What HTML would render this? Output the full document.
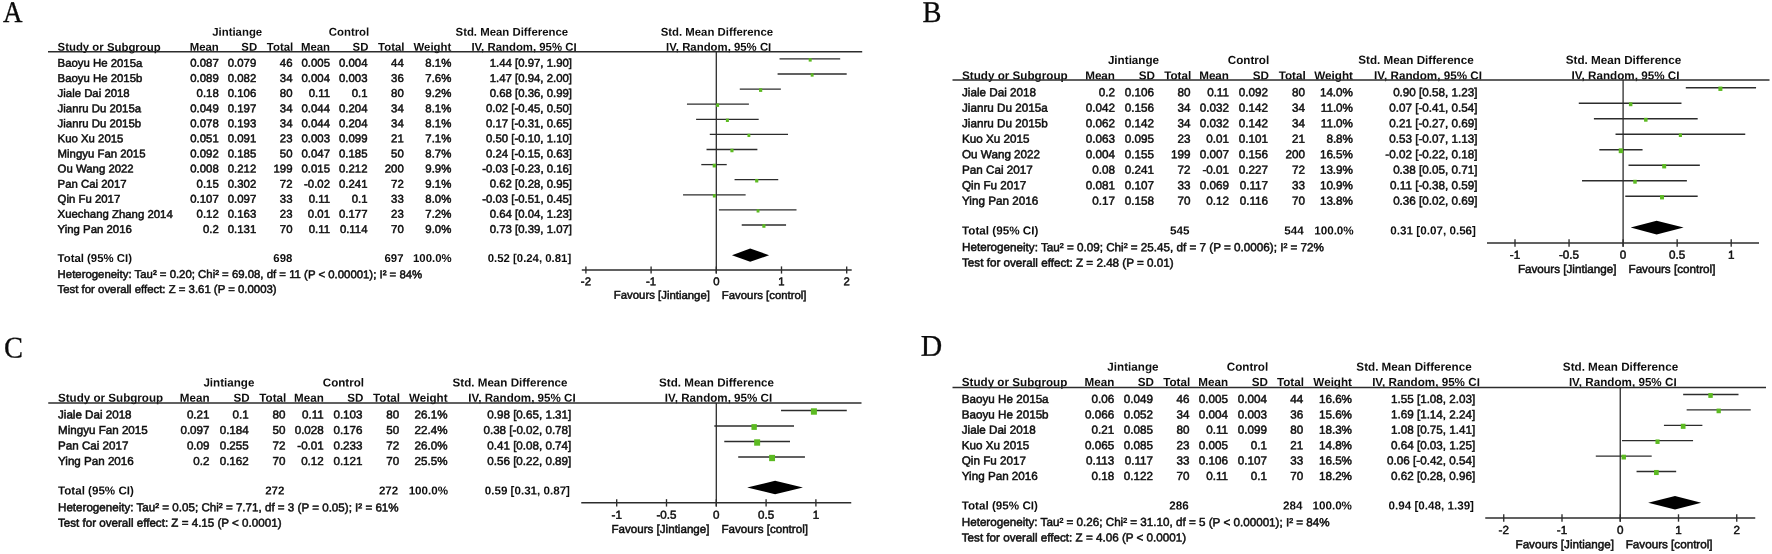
<!DOCTYPE html>
<html lang="en">
<head>
<meta charset="utf-8">
<title>Forest plots</title>
<style>
html,body{margin:0;padding:0;background:#fff;}
body{width:1772px;height:554px;overflow:hidden;}
svg{display:block;filter:blur(0.35px);}
svg text{font-family:"Liberation Sans",Arial,Helvetica,sans-serif;fill:#0e0e0e;}
svg text.r{stroke:#0e0e0e;stroke-width:0.5px;}
svg text.pl{font-family:"Liberation Serif","Times New Roman",Times,serif;fill:#0a0a0a;stroke:#0a0a0a;stroke-width:0.3px;}
</style>
</head>
<body>
<svg width="1772" height="554" viewBox="0 0 1772 554">
<rect x="0" y="0" width="1772" height="554" fill="#ffffff"/>
<g font-size="11.38">
<text class="pl" transform="translate(3.1 22) rotate(0.03) scale(0.900 1)" font-size="30">A</text>
<text transform="translate(237.2 35.8) rotate(0.03)" text-anchor="middle" font-weight="bold">Jintiange</text>
<text transform="translate(349 35.8) rotate(0.03)" text-anchor="middle" font-weight="bold">Control</text>
<text transform="translate(511.8 35.8) rotate(0.03)" text-anchor="middle" font-weight="bold">Std. Mean Difference</text>
<text transform="translate(716.9 35.8) rotate(0.03)" text-anchor="middle" font-weight="bold">Std. Mean Difference</text>
<text transform="translate(524 50.85) rotate(0.03)" text-anchor="middle" font-weight="bold">IV, Random, 95% CI</text>
<text transform="translate(718.7 50.85) rotate(0.03)" text-anchor="middle" font-weight="bold">IV, Random, 95% CI</text>
<text transform="translate(57.6 50.85) rotate(0.03)" font-weight="bold">Study or Subgroup</text>
<text transform="translate(218.75 50.85) rotate(0.03)" text-anchor="end" font-weight="bold">Mean</text>
<text transform="translate(257.15 50.85) rotate(0.03)" text-anchor="end" font-weight="bold">SD</text>
<text transform="translate(293.2 50.85) rotate(0.03)" text-anchor="end" font-weight="bold">Total</text>
<text transform="translate(330 50.85) rotate(0.03)" text-anchor="end" font-weight="bold">Mean</text>
<text transform="translate(368.4 50.85) rotate(0.03)" text-anchor="end" font-weight="bold">SD</text>
<text transform="translate(404.45 50.85) rotate(0.03)" text-anchor="end" font-weight="bold">Total</text>
<text transform="translate(451.25 50.85) rotate(0.03)" text-anchor="end" font-weight="bold">Weight</text>
<line x1="48" y1="51.7" x2="862.2" y2="51.7" stroke="#2c2c2c" stroke-width="1.5"/>
<text transform="translate(57.6 66.85) rotate(0.03)" class="r">Baoyu He 2015a</text>
<text transform="translate(218.75 66.85) rotate(0.03)" text-anchor="end" class="r">0.087</text>
<text transform="translate(256.25 66.85) rotate(0.03)" text-anchor="end" class="r">0.079</text>
<text transform="translate(292.5 66.85) rotate(0.03)" text-anchor="end" class="r">46</text>
<text transform="translate(330 66.85) rotate(0.03)" text-anchor="end" class="r">0.005</text>
<text transform="translate(367.5 66.85) rotate(0.03)" text-anchor="end" class="r">0.004</text>
<text transform="translate(403.75 66.85) rotate(0.03)" text-anchor="end" class="r">44</text>
<text transform="translate(451.25 66.85) rotate(0.03)" text-anchor="end" class="r">8.1%</text>
<text transform="translate(572 66.85) rotate(0.03)" text-anchor="end" class="r">1.44 [0.97, 1.90]</text>
<text transform="translate(57.6 81.95) rotate(0.03)" class="r">Baoyu He 2015b</text>
<text transform="translate(218.75 81.95) rotate(0.03)" text-anchor="end" class="r">0.089</text>
<text transform="translate(256.25 81.95) rotate(0.03)" text-anchor="end" class="r">0.082</text>
<text transform="translate(292.5 81.95) rotate(0.03)" text-anchor="end" class="r">34</text>
<text transform="translate(330 81.95) rotate(0.03)" text-anchor="end" class="r">0.004</text>
<text transform="translate(367.5 81.95) rotate(0.03)" text-anchor="end" class="r">0.003</text>
<text transform="translate(403.75 81.95) rotate(0.03)" text-anchor="end" class="r">36</text>
<text transform="translate(451.25 81.95) rotate(0.03)" text-anchor="end" class="r">7.6%</text>
<text transform="translate(572 81.95) rotate(0.03)" text-anchor="end" class="r">1.47 [0.94, 2.00]</text>
<text transform="translate(57.6 97.05) rotate(0.03)" class="r">Jiale Dai 2018</text>
<text transform="translate(218.75 97.05) rotate(0.03)" text-anchor="end" class="r">0.18</text>
<text transform="translate(256.25 97.05) rotate(0.03)" text-anchor="end" class="r">0.106</text>
<text transform="translate(292.5 97.05) rotate(0.03)" text-anchor="end" class="r">80</text>
<text transform="translate(330 97.05) rotate(0.03)" text-anchor="end" class="r">0.11</text>
<text transform="translate(367.5 97.05) rotate(0.03)" text-anchor="end" class="r">0.1</text>
<text transform="translate(403.75 97.05) rotate(0.03)" text-anchor="end" class="r">80</text>
<text transform="translate(451.25 97.05) rotate(0.03)" text-anchor="end" class="r">9.2%</text>
<text transform="translate(572 97.05) rotate(0.03)" text-anchor="end" class="r">0.68 [0.36, 0.99]</text>
<text transform="translate(57.6 112.15) rotate(0.03)" class="r">Jianru Du 2015a</text>
<text transform="translate(218.75 112.15) rotate(0.03)" text-anchor="end" class="r">0.049</text>
<text transform="translate(256.25 112.15) rotate(0.03)" text-anchor="end" class="r">0.197</text>
<text transform="translate(292.5 112.15) rotate(0.03)" text-anchor="end" class="r">34</text>
<text transform="translate(330 112.15) rotate(0.03)" text-anchor="end" class="r">0.044</text>
<text transform="translate(367.5 112.15) rotate(0.03)" text-anchor="end" class="r">0.204</text>
<text transform="translate(403.75 112.15) rotate(0.03)" text-anchor="end" class="r">34</text>
<text transform="translate(451.25 112.15) rotate(0.03)" text-anchor="end" class="r">8.1%</text>
<text transform="translate(572 112.15) rotate(0.03)" text-anchor="end" class="r">0.02 [-0.45, 0.50]</text>
<text transform="translate(57.6 127.25) rotate(0.03)" class="r">Jianru Du 2015b</text>
<text transform="translate(218.75 127.25) rotate(0.03)" text-anchor="end" class="r">0.078</text>
<text transform="translate(256.25 127.25) rotate(0.03)" text-anchor="end" class="r">0.193</text>
<text transform="translate(292.5 127.25) rotate(0.03)" text-anchor="end" class="r">34</text>
<text transform="translate(330 127.25) rotate(0.03)" text-anchor="end" class="r">0.044</text>
<text transform="translate(367.5 127.25) rotate(0.03)" text-anchor="end" class="r">0.204</text>
<text transform="translate(403.75 127.25) rotate(0.03)" text-anchor="end" class="r">34</text>
<text transform="translate(451.25 127.25) rotate(0.03)" text-anchor="end" class="r">8.1%</text>
<text transform="translate(572 127.25) rotate(0.03)" text-anchor="end" class="r">0.17 [-0.31, 0.65]</text>
<text transform="translate(57.6 142.35) rotate(0.03)" class="r">Kuo Xu 2015</text>
<text transform="translate(218.75 142.35) rotate(0.03)" text-anchor="end" class="r">0.051</text>
<text transform="translate(256.25 142.35) rotate(0.03)" text-anchor="end" class="r">0.091</text>
<text transform="translate(292.5 142.35) rotate(0.03)" text-anchor="end" class="r">23</text>
<text transform="translate(330 142.35) rotate(0.03)" text-anchor="end" class="r">0.003</text>
<text transform="translate(367.5 142.35) rotate(0.03)" text-anchor="end" class="r">0.099</text>
<text transform="translate(403.75 142.35) rotate(0.03)" text-anchor="end" class="r">21</text>
<text transform="translate(451.25 142.35) rotate(0.03)" text-anchor="end" class="r">7.1%</text>
<text transform="translate(572 142.35) rotate(0.03)" text-anchor="end" class="r">0.50 [-0.10, 1.10]</text>
<text transform="translate(57.6 157.45) rotate(0.03)" class="r">Mingyu Fan 2015</text>
<text transform="translate(218.75 157.45) rotate(0.03)" text-anchor="end" class="r">0.092</text>
<text transform="translate(256.25 157.45) rotate(0.03)" text-anchor="end" class="r">0.185</text>
<text transform="translate(292.5 157.45) rotate(0.03)" text-anchor="end" class="r">50</text>
<text transform="translate(330 157.45) rotate(0.03)" text-anchor="end" class="r">0.047</text>
<text transform="translate(367.5 157.45) rotate(0.03)" text-anchor="end" class="r">0.185</text>
<text transform="translate(403.75 157.45) rotate(0.03)" text-anchor="end" class="r">50</text>
<text transform="translate(451.25 157.45) rotate(0.03)" text-anchor="end" class="r">8.7%</text>
<text transform="translate(572 157.45) rotate(0.03)" text-anchor="end" class="r">0.24 [-0.15, 0.63]</text>
<text transform="translate(57.6 172.55) rotate(0.03)" class="r">Ou Wang 2022</text>
<text transform="translate(218.75 172.55) rotate(0.03)" text-anchor="end" class="r">0.008</text>
<text transform="translate(256.25 172.55) rotate(0.03)" text-anchor="end" class="r">0.212</text>
<text transform="translate(292.5 172.55) rotate(0.03)" text-anchor="end" class="r">199</text>
<text transform="translate(330 172.55) rotate(0.03)" text-anchor="end" class="r">0.015</text>
<text transform="translate(367.5 172.55) rotate(0.03)" text-anchor="end" class="r">0.212</text>
<text transform="translate(403.75 172.55) rotate(0.03)" text-anchor="end" class="r">200</text>
<text transform="translate(451.25 172.55) rotate(0.03)" text-anchor="end" class="r">9.9%</text>
<text transform="translate(572 172.55) rotate(0.03)" text-anchor="end" class="r">-0.03 [-0.23, 0.16]</text>
<text transform="translate(57.6 187.65) rotate(0.03)" class="r">Pan Cai 2017</text>
<text transform="translate(218.75 187.65) rotate(0.03)" text-anchor="end" class="r">0.15</text>
<text transform="translate(256.25 187.65) rotate(0.03)" text-anchor="end" class="r">0.302</text>
<text transform="translate(292.5 187.65) rotate(0.03)" text-anchor="end" class="r">72</text>
<text transform="translate(330 187.65) rotate(0.03)" text-anchor="end" class="r">-0.02</text>
<text transform="translate(367.5 187.65) rotate(0.03)" text-anchor="end" class="r">0.241</text>
<text transform="translate(403.75 187.65) rotate(0.03)" text-anchor="end" class="r">72</text>
<text transform="translate(451.25 187.65) rotate(0.03)" text-anchor="end" class="r">9.1%</text>
<text transform="translate(572 187.65) rotate(0.03)" text-anchor="end" class="r">0.62 [0.28, 0.95]</text>
<text transform="translate(57.6 202.75) rotate(0.03)" class="r">Qin Fu 2017</text>
<text transform="translate(218.75 202.75) rotate(0.03)" text-anchor="end" class="r">0.107</text>
<text transform="translate(256.25 202.75) rotate(0.03)" text-anchor="end" class="r">0.097</text>
<text transform="translate(292.5 202.75) rotate(0.03)" text-anchor="end" class="r">33</text>
<text transform="translate(330 202.75) rotate(0.03)" text-anchor="end" class="r">0.11</text>
<text transform="translate(367.5 202.75) rotate(0.03)" text-anchor="end" class="r">0.1</text>
<text transform="translate(403.75 202.75) rotate(0.03)" text-anchor="end" class="r">33</text>
<text transform="translate(451.25 202.75) rotate(0.03)" text-anchor="end" class="r">8.0%</text>
<text transform="translate(572 202.75) rotate(0.03)" text-anchor="end" class="r">-0.03 [-0.51, 0.45]</text>
<text transform="translate(57.6 217.85) rotate(0.03)" class="r">Xuechang Zhang 2014</text>
<text transform="translate(218.75 217.85) rotate(0.03)" text-anchor="end" class="r">0.12</text>
<text transform="translate(256.25 217.85) rotate(0.03)" text-anchor="end" class="r">0.163</text>
<text transform="translate(292.5 217.85) rotate(0.03)" text-anchor="end" class="r">23</text>
<text transform="translate(330 217.85) rotate(0.03)" text-anchor="end" class="r">0.01</text>
<text transform="translate(367.5 217.85) rotate(0.03)" text-anchor="end" class="r">0.177</text>
<text transform="translate(403.75 217.85) rotate(0.03)" text-anchor="end" class="r">23</text>
<text transform="translate(451.25 217.85) rotate(0.03)" text-anchor="end" class="r">7.2%</text>
<text transform="translate(572 217.85) rotate(0.03)" text-anchor="end" class="r">0.64 [0.04, 1.23]</text>
<text transform="translate(57.6 232.95) rotate(0.03)" class="r">Ying Pan 2016</text>
<text transform="translate(218.75 232.95) rotate(0.03)" text-anchor="end" class="r">0.2</text>
<text transform="translate(256.25 232.95) rotate(0.03)" text-anchor="end" class="r">0.131</text>
<text transform="translate(292.5 232.95) rotate(0.03)" text-anchor="end" class="r">70</text>
<text transform="translate(330 232.95) rotate(0.03)" text-anchor="end" class="r">0.11</text>
<text transform="translate(367.5 232.95) rotate(0.03)" text-anchor="end" class="r">0.114</text>
<text transform="translate(403.75 232.95) rotate(0.03)" text-anchor="end" class="r">70</text>
<text transform="translate(451.25 232.95) rotate(0.03)" text-anchor="end" class="r">9.0%</text>
<text transform="translate(572 232.95) rotate(0.03)" text-anchor="end" class="r">0.73 [0.39, 1.07]</text>
<text transform="translate(57.6 262) rotate(0.03)" font-weight="bold">Total (95% CI)</text>
<text transform="translate(292.3 262) rotate(0.03)" text-anchor="end" font-weight="bold">698</text>
<text transform="translate(403.5 262) rotate(0.03)" text-anchor="end" font-weight="bold">697</text>
<text transform="translate(451.6 262) rotate(0.03)" text-anchor="end" font-weight="bold">100.0%</text>
<text transform="translate(571.2 262) rotate(0.03)" text-anchor="end" font-weight="bold">0.52 [0.24, 0.81]</text>
<text transform="translate(57.6 278) rotate(0.03)" class="r">Heterogeneity: Tau² = 0.20; Chi² = 69.08, df = 11 (P &lt; 0.00001); I² = 84%</text>
<text transform="translate(57.6 293) rotate(0.03)" class="r">Test for overall effect: Z = 3.61 (P = 0.0003)</text>
<line x1="716.3" y1="51.7" x2="716.3" y2="273.6" stroke="#2c2c2c" stroke-width="1.3"/>
<line x1="581.8" y1="270" x2="851.7" y2="270" stroke="#2c2c2c" stroke-width="1.5"/>
<line x1="585.9" y1="266.4" x2="585.9" y2="273.6" stroke="#2c2c2c" stroke-width="1.35"/>
<text transform="translate(585.9 285.3) rotate(0.03)" text-anchor="middle" class="r">-2</text>
<line x1="651.1" y1="266.4" x2="651.1" y2="273.6" stroke="#2c2c2c" stroke-width="1.35"/>
<text transform="translate(651.1 285.3) rotate(0.03)" text-anchor="middle" class="r">-1</text>
<line x1="716.3" y1="266.4" x2="716.3" y2="273.6" stroke="#2c2c2c" stroke-width="1.35"/>
<text transform="translate(716.3 285.3) rotate(0.03)" text-anchor="middle" class="r">0</text>
<line x1="781.5" y1="266.4" x2="781.5" y2="273.6" stroke="#2c2c2c" stroke-width="1.35"/>
<text transform="translate(781.5 285.3) rotate(0.03)" text-anchor="middle" class="r">1</text>
<line x1="846.7" y1="266.4" x2="846.7" y2="273.6" stroke="#2c2c2c" stroke-width="1.35"/>
<text transform="translate(846.7 285.3) rotate(0.03)" text-anchor="middle" class="r">2</text>
<text transform="translate(709.9 298.9) rotate(0.03)" text-anchor="end" class="r">Favours [Jintiange]</text>
<text transform="translate(721.8 298.9) rotate(0.03)" class="r">Favours [control]</text>
<line x1="779.54" y1="58.9" x2="840.18" y2="58.9" stroke="#2c2c2c" stroke-width="1.3"/>
<rect x="808.69" y="58.2" width="3" height="3.4" fill="#5cba22"/>
<line x1="777.59" y1="74" x2="846.7" y2="74" stroke="#2c2c2c" stroke-width="1.3"/>
<rect x="810.68" y="73.34" width="2.92" height="3.32" fill="#5cba22"/>
<line x1="739.77" y1="89.1" x2="780.85" y2="89.1" stroke="#2c2c2c" stroke-width="1.3"/>
<rect x="759.04" y="88.31" width="3.19" height="3.59" fill="#5cba22"/>
<line x1="686.96" y1="104.2" x2="748.9" y2="104.2" stroke="#2c2c2c" stroke-width="1.3"/>
<rect x="716.1" y="103.5" width="3" height="3.4" fill="#5cba22"/>
<line x1="696.09" y1="119.3" x2="758.68" y2="119.3" stroke="#2c2c2c" stroke-width="1.3"/>
<rect x="725.88" y="118.6" width="3" height="3.4" fill="#5cba22"/>
<line x1="709.78" y1="134.4" x2="788.02" y2="134.4" stroke="#2c2c2c" stroke-width="1.3"/>
<rect x="747.48" y="133.78" width="2.84" height="3.24" fill="#5cba22"/>
<line x1="706.52" y1="149.5" x2="757.38" y2="149.5" stroke="#2c2c2c" stroke-width="1.3"/>
<rect x="730.4" y="148.75" width="3.1" height="3.5" fill="#5cba22"/>
<line x1="701.3" y1="164.6" x2="726.73" y2="164.6" stroke="#2c2c2c" stroke-width="1.3"/>
<rect x="712.69" y="163.75" width="3.3" height="3.7" fill="#5cba22"/>
<line x1="734.56" y1="179.7" x2="778.24" y2="179.7" stroke="#2c2c2c" stroke-width="1.3"/>
<rect x="755.14" y="178.92" width="3.17" height="3.57" fill="#5cba22"/>
<line x1="683.05" y1="194.8" x2="745.64" y2="194.8" stroke="#2c2c2c" stroke-width="1.3"/>
<rect x="712.85" y="194.11" width="2.99" height="3.39" fill="#5cba22"/>
<line x1="718.91" y1="209.9" x2="796.5" y2="209.9" stroke="#2c2c2c" stroke-width="1.3"/>
<rect x="756.6" y="209.27" width="2.85" height="3.25" fill="#5cba22"/>
<line x1="741.73" y1="225" x2="786.06" y2="225" stroke="#2c2c2c" stroke-width="1.3"/>
<rect x="762.32" y="224.22" width="3.15" height="3.55" fill="#5cba22"/>
<polygon points="731.95,255.2 750.2,248.55 769.11,255.2 750.2,261.85" fill="#000"/>
</g>
<g font-size="11.68">
<text class="pl" transform="translate(922.5 22) rotate(0.03) scale(0.950 1)" font-size="30">B</text>
<text transform="translate(1133.5 63.9) rotate(0.03)" text-anchor="middle" font-weight="bold">Jintiange</text>
<text transform="translate(1248.5 63.9) rotate(0.03)" text-anchor="middle" font-weight="bold">Control</text>
<text transform="translate(1416 63.9) rotate(0.03)" text-anchor="middle" font-weight="bold">Std. Mean Difference</text>
<text transform="translate(1623.5 63.9) rotate(0.03)" text-anchor="middle" font-weight="bold">Std. Mean Difference</text>
<text transform="translate(1428 79.4) rotate(0.03)" text-anchor="middle" font-weight="bold">IV, Random, 95% CI</text>
<text transform="translate(1625.5 79.4) rotate(0.03)" text-anchor="middle" font-weight="bold">IV, Random, 95% CI</text>
<text transform="translate(962 79.4) rotate(0.03)" font-weight="bold">Study or Subgroup</text>
<text transform="translate(1115 79.4) rotate(0.03)" text-anchor="end" font-weight="bold">Mean</text>
<text transform="translate(1154.9 79.4) rotate(0.03)" text-anchor="end" font-weight="bold">SD</text>
<text transform="translate(1191.2 79.4) rotate(0.03)" text-anchor="end" font-weight="bold">Total</text>
<text transform="translate(1229 79.4) rotate(0.03)" text-anchor="end" font-weight="bold">Mean</text>
<text transform="translate(1268.9 79.4) rotate(0.03)" text-anchor="end" font-weight="bold">SD</text>
<text transform="translate(1305.7 79.4) rotate(0.03)" text-anchor="end" font-weight="bold">Total</text>
<text transform="translate(1353 79.4) rotate(0.03)" text-anchor="end" font-weight="bold">Weight</text>
<line x1="952.5" y1="80" x2="1769.5" y2="80" stroke="#2c2c2c" stroke-width="1.5"/>
<text transform="translate(962 96.25) rotate(0.03)" class="r">Jiale Dai 2018</text>
<text transform="translate(1115 96.25) rotate(0.03)" text-anchor="end" class="r">0.2</text>
<text transform="translate(1154 96.25) rotate(0.03)" text-anchor="end" class="r">0.106</text>
<text transform="translate(1190.5 96.25) rotate(0.03)" text-anchor="end" class="r">80</text>
<text transform="translate(1229 96.25) rotate(0.03)" text-anchor="end" class="r">0.11</text>
<text transform="translate(1268 96.25) rotate(0.03)" text-anchor="end" class="r">0.092</text>
<text transform="translate(1305 96.25) rotate(0.03)" text-anchor="end" class="r">80</text>
<text transform="translate(1353 96.25) rotate(0.03)" text-anchor="end" class="r">14.0%</text>
<text transform="translate(1477.5 96.25) rotate(0.03)" text-anchor="end" class="r">0.90 [0.58, 1.23]</text>
<text transform="translate(962 111.75) rotate(0.03)" class="r">Jianru Du 2015a</text>
<text transform="translate(1115 111.75) rotate(0.03)" text-anchor="end" class="r">0.042</text>
<text transform="translate(1154 111.75) rotate(0.03)" text-anchor="end" class="r">0.156</text>
<text transform="translate(1190.5 111.75) rotate(0.03)" text-anchor="end" class="r">34</text>
<text transform="translate(1229 111.75) rotate(0.03)" text-anchor="end" class="r">0.032</text>
<text transform="translate(1268 111.75) rotate(0.03)" text-anchor="end" class="r">0.142</text>
<text transform="translate(1305 111.75) rotate(0.03)" text-anchor="end" class="r">34</text>
<text transform="translate(1353 111.75) rotate(0.03)" text-anchor="end" class="r">11.0%</text>
<text transform="translate(1477.5 111.75) rotate(0.03)" text-anchor="end" class="r">0.07 [-0.41, 0.54]</text>
<text transform="translate(962 127.25) rotate(0.03)" class="r">Jianru Du 2015b</text>
<text transform="translate(1115 127.25) rotate(0.03)" text-anchor="end" class="r">0.062</text>
<text transform="translate(1154 127.25) rotate(0.03)" text-anchor="end" class="r">0.142</text>
<text transform="translate(1190.5 127.25) rotate(0.03)" text-anchor="end" class="r">34</text>
<text transform="translate(1229 127.25) rotate(0.03)" text-anchor="end" class="r">0.032</text>
<text transform="translate(1268 127.25) rotate(0.03)" text-anchor="end" class="r">0.142</text>
<text transform="translate(1305 127.25) rotate(0.03)" text-anchor="end" class="r">34</text>
<text transform="translate(1353 127.25) rotate(0.03)" text-anchor="end" class="r">11.0%</text>
<text transform="translate(1477.5 127.25) rotate(0.03)" text-anchor="end" class="r">0.21 [-0.27, 0.69]</text>
<text transform="translate(962 142.75) rotate(0.03)" class="r">Kuo Xu 2015</text>
<text transform="translate(1115 142.75) rotate(0.03)" text-anchor="end" class="r">0.063</text>
<text transform="translate(1154 142.75) rotate(0.03)" text-anchor="end" class="r">0.095</text>
<text transform="translate(1190.5 142.75) rotate(0.03)" text-anchor="end" class="r">23</text>
<text transform="translate(1229 142.75) rotate(0.03)" text-anchor="end" class="r">0.01</text>
<text transform="translate(1268 142.75) rotate(0.03)" text-anchor="end" class="r">0.101</text>
<text transform="translate(1305 142.75) rotate(0.03)" text-anchor="end" class="r">21</text>
<text transform="translate(1353 142.75) rotate(0.03)" text-anchor="end" class="r">8.8%</text>
<text transform="translate(1477.5 142.75) rotate(0.03)" text-anchor="end" class="r">0.53 [-0.07, 1.13]</text>
<text transform="translate(962 158.25) rotate(0.03)" class="r">Ou Wang 2022</text>
<text transform="translate(1115 158.25) rotate(0.03)" text-anchor="end" class="r">0.004</text>
<text transform="translate(1154 158.25) rotate(0.03)" text-anchor="end" class="r">0.155</text>
<text transform="translate(1190.5 158.25) rotate(0.03)" text-anchor="end" class="r">199</text>
<text transform="translate(1229 158.25) rotate(0.03)" text-anchor="end" class="r">0.007</text>
<text transform="translate(1268 158.25) rotate(0.03)" text-anchor="end" class="r">0.156</text>
<text transform="translate(1305 158.25) rotate(0.03)" text-anchor="end" class="r">200</text>
<text transform="translate(1353 158.25) rotate(0.03)" text-anchor="end" class="r">16.5%</text>
<text transform="translate(1477.5 158.25) rotate(0.03)" text-anchor="end" class="r">-0.02 [-0.22, 0.18]</text>
<text transform="translate(962 173.75) rotate(0.03)" class="r">Pan Cai 2017</text>
<text transform="translate(1115 173.75) rotate(0.03)" text-anchor="end" class="r">0.08</text>
<text transform="translate(1154 173.75) rotate(0.03)" text-anchor="end" class="r">0.241</text>
<text transform="translate(1190.5 173.75) rotate(0.03)" text-anchor="end" class="r">72</text>
<text transform="translate(1229 173.75) rotate(0.03)" text-anchor="end" class="r">-0.01</text>
<text transform="translate(1268 173.75) rotate(0.03)" text-anchor="end" class="r">0.227</text>
<text transform="translate(1305 173.75) rotate(0.03)" text-anchor="end" class="r">72</text>
<text transform="translate(1353 173.75) rotate(0.03)" text-anchor="end" class="r">13.9%</text>
<text transform="translate(1477.5 173.75) rotate(0.03)" text-anchor="end" class="r">0.38 [0.05, 0.71]</text>
<text transform="translate(962 189.25) rotate(0.03)" class="r">Qin Fu 2017</text>
<text transform="translate(1115 189.25) rotate(0.03)" text-anchor="end" class="r">0.081</text>
<text transform="translate(1154 189.25) rotate(0.03)" text-anchor="end" class="r">0.107</text>
<text transform="translate(1190.5 189.25) rotate(0.03)" text-anchor="end" class="r">33</text>
<text transform="translate(1229 189.25) rotate(0.03)" text-anchor="end" class="r">0.069</text>
<text transform="translate(1268 189.25) rotate(0.03)" text-anchor="end" class="r">0.117</text>
<text transform="translate(1305 189.25) rotate(0.03)" text-anchor="end" class="r">33</text>
<text transform="translate(1353 189.25) rotate(0.03)" text-anchor="end" class="r">10.9%</text>
<text transform="translate(1477.5 189.25) rotate(0.03)" text-anchor="end" class="r">0.11 [-0.38, 0.59]</text>
<text transform="translate(962 204.75) rotate(0.03)" class="r">Ying Pan 2016</text>
<text transform="translate(1115 204.75) rotate(0.03)" text-anchor="end" class="r">0.17</text>
<text transform="translate(1154 204.75) rotate(0.03)" text-anchor="end" class="r">0.158</text>
<text transform="translate(1190.5 204.75) rotate(0.03)" text-anchor="end" class="r">70</text>
<text transform="translate(1229 204.75) rotate(0.03)" text-anchor="end" class="r">0.12</text>
<text transform="translate(1268 204.75) rotate(0.03)" text-anchor="end" class="r">0.116</text>
<text transform="translate(1305 204.75) rotate(0.03)" text-anchor="end" class="r">70</text>
<text transform="translate(1353 204.75) rotate(0.03)" text-anchor="end" class="r">13.8%</text>
<text transform="translate(1477.5 204.75) rotate(0.03)" text-anchor="end" class="r">0.36 [0.02, 0.69]</text>
<text transform="translate(962 234.5) rotate(0.03)" font-weight="bold">Total (95% CI)</text>
<text transform="translate(1189.5 234.5) rotate(0.03)" text-anchor="end" font-weight="bold">545</text>
<text transform="translate(1303.75 234.5) rotate(0.03)" text-anchor="end" font-weight="bold">544</text>
<text transform="translate(1353.75 234.5) rotate(0.03)" text-anchor="end" font-weight="bold">100.0%</text>
<text transform="translate(1476 234.5) rotate(0.03)" text-anchor="end" font-weight="bold">0.31 [0.07, 0.56]</text>
<text transform="translate(962 251.1) rotate(0.03)" class="r">Heterogeneity: Tau² = 0.09; Chi² = 25.45, df = 7 (P = 0.0006); I² = 72%</text>
<text transform="translate(962 266.6) rotate(0.03)" class="r">Test for overall effect: Z = 2.48 (P = 0.01)</text>
<line x1="1623.1" y1="80" x2="1623.1" y2="246.7" stroke="#2c2c2c" stroke-width="1.3"/>
<line x1="1487" y1="243" x2="1759" y2="243" stroke="#2c2c2c" stroke-width="1.5"/>
<line x1="1515" y1="239.3" x2="1515" y2="246.7" stroke="#2c2c2c" stroke-width="1.35"/>
<text transform="translate(1515 258.75) rotate(0.03)" text-anchor="middle" class="r">-1</text>
<line x1="1569.05" y1="239.3" x2="1569.05" y2="246.7" stroke="#2c2c2c" stroke-width="1.35"/>
<text transform="translate(1569.05 258.75) rotate(0.03)" text-anchor="middle" class="r">-0.5</text>
<line x1="1623.1" y1="239.3" x2="1623.1" y2="246.7" stroke="#2c2c2c" stroke-width="1.35"/>
<text transform="translate(1623.1 258.75) rotate(0.03)" text-anchor="middle" class="r">0</text>
<line x1="1677.15" y1="239.3" x2="1677.15" y2="246.7" stroke="#2c2c2c" stroke-width="1.35"/>
<text transform="translate(1677.15 258.75) rotate(0.03)" text-anchor="middle" class="r">0.5</text>
<line x1="1731.2" y1="239.3" x2="1731.2" y2="246.7" stroke="#2c2c2c" stroke-width="1.35"/>
<text transform="translate(1731.2 258.75) rotate(0.03)" text-anchor="middle" class="r">1</text>
<text transform="translate(1616.5 273) rotate(0.03)" text-anchor="end" class="r">Favours [Jintiange]</text>
<text transform="translate(1628.5 273) rotate(0.03)" class="r">Favours [control]</text>
<line x1="1685.8" y1="87.75" x2="1756.06" y2="87.75" stroke="#2c2c2c" stroke-width="1.3"/>
<rect x="1718.4" y="86.56" width="3.99" height="4.39" fill="#5cba22"/>
<line x1="1578.78" y1="103.25" x2="1681.47" y2="103.25" stroke="#2c2c2c" stroke-width="1.3"/>
<rect x="1628.92" y="102.31" width="3.49" height="3.89" fill="#5cba22"/>
<line x1="1593.91" y1="118.75" x2="1697.69" y2="118.75" stroke="#2c2c2c" stroke-width="1.3"/>
<rect x="1644.06" y="117.81" width="3.49" height="3.89" fill="#5cba22"/>
<line x1="1615.53" y1="134.25" x2="1745.25" y2="134.25" stroke="#2c2c2c" stroke-width="1.3"/>
<rect x="1678.83" y="133.49" width="3.12" height="3.52" fill="#5cba22"/>
<line x1="1599.32" y1="149.75" x2="1642.56" y2="149.75" stroke="#2c2c2c" stroke-width="1.3"/>
<rect x="1618.74" y="148.35" width="4.41" height="4.81" fill="#5cba22"/>
<line x1="1628.5" y1="165.25" x2="1699.85" y2="165.25" stroke="#2c2c2c" stroke-width="1.3"/>
<rect x="1662.19" y="164.06" width="3.97" height="4.37" fill="#5cba22"/>
<line x1="1582.02" y1="180.75" x2="1686.88" y2="180.75" stroke="#2c2c2c" stroke-width="1.3"/>
<rect x="1633.26" y="179.81" width="3.47" height="3.87" fill="#5cba22"/>
<line x1="1625.26" y1="196.25" x2="1697.69" y2="196.25" stroke="#2c2c2c" stroke-width="1.3"/>
<rect x="1660.04" y="195.07" width="3.95" height="4.35" fill="#5cba22"/>
<polygon points="1630.67,227.6 1656.61,220.75 1683.64,227.6 1656.61,234.45" fill="#000"/>
</g>
<g font-size="11.62">
<text class="pl" transform="translate(3.9 357.5) rotate(0.03) scale(0.950 1)" font-size="30">C</text>
<text transform="translate(228.9 386.5) rotate(0.03)" text-anchor="middle" font-weight="bold">Jintiange</text>
<text transform="translate(343.4 386.5) rotate(0.03)" text-anchor="middle" font-weight="bold">Control</text>
<text transform="translate(510 386.5) rotate(0.03)" text-anchor="middle" font-weight="bold">Std. Mean Difference</text>
<text transform="translate(716.5 386.5) rotate(0.03)" text-anchor="middle" font-weight="bold">Std. Mean Difference</text>
<text transform="translate(522 401.75) rotate(0.03)" text-anchor="middle" font-weight="bold">IV, Random, 95% CI</text>
<text transform="translate(718.5 401.75) rotate(0.03)" text-anchor="middle" font-weight="bold">IV, Random, 95% CI</text>
<text transform="translate(58 401.75) rotate(0.03)" font-weight="bold">Study or Subgroup</text>
<text transform="translate(209.5 401.75) rotate(0.03)" text-anchor="end" font-weight="bold">Mean</text>
<text transform="translate(249.65 401.75) rotate(0.03)" text-anchor="end" font-weight="bold">SD</text>
<text transform="translate(286.2 401.75) rotate(0.03)" text-anchor="end" font-weight="bold">Total</text>
<text transform="translate(323.75 401.75) rotate(0.03)" text-anchor="end" font-weight="bold">Mean</text>
<text transform="translate(363.4 401.75) rotate(0.03)" text-anchor="end" font-weight="bold">SD</text>
<text transform="translate(399.95 401.75) rotate(0.03)" text-anchor="end" font-weight="bold">Total</text>
<text transform="translate(447.5 401.75) rotate(0.03)" text-anchor="end" font-weight="bold">Weight</text>
<line x1="48.25" y1="402.95" x2="861.5" y2="402.95" stroke="#2c2c2c" stroke-width="1.5"/>
<text transform="translate(58 418.5) rotate(0.03)" class="r">Jiale Dai 2018</text>
<text transform="translate(209.5 418.5) rotate(0.03)" text-anchor="end" class="r">0.21</text>
<text transform="translate(248.75 418.5) rotate(0.03)" text-anchor="end" class="r">0.1</text>
<text transform="translate(285.5 418.5) rotate(0.03)" text-anchor="end" class="r">80</text>
<text transform="translate(323.75 418.5) rotate(0.03)" text-anchor="end" class="r">0.11</text>
<text transform="translate(362.5 418.5) rotate(0.03)" text-anchor="end" class="r">0.103</text>
<text transform="translate(399.25 418.5) rotate(0.03)" text-anchor="end" class="r">80</text>
<text transform="translate(447.5 418.5) rotate(0.03)" text-anchor="end" class="r">26.1%</text>
<text transform="translate(571.25 418.5) rotate(0.03)" text-anchor="end" class="r">0.98 [0.65, 1.31]</text>
<text transform="translate(58 434) rotate(0.03)" class="r">Mingyu Fan 2015</text>
<text transform="translate(209.5 434) rotate(0.03)" text-anchor="end" class="r">0.097</text>
<text transform="translate(248.75 434) rotate(0.03)" text-anchor="end" class="r">0.184</text>
<text transform="translate(285.5 434) rotate(0.03)" text-anchor="end" class="r">50</text>
<text transform="translate(323.75 434) rotate(0.03)" text-anchor="end" class="r">0.028</text>
<text transform="translate(362.5 434) rotate(0.03)" text-anchor="end" class="r">0.176</text>
<text transform="translate(399.25 434) rotate(0.03)" text-anchor="end" class="r">50</text>
<text transform="translate(447.5 434) rotate(0.03)" text-anchor="end" class="r">22.4%</text>
<text transform="translate(571.25 434) rotate(0.03)" text-anchor="end" class="r">0.38 [-0.02, 0.78]</text>
<text transform="translate(58 449.5) rotate(0.03)" class="r">Pan Cai 2017</text>
<text transform="translate(209.5 449.5) rotate(0.03)" text-anchor="end" class="r">0.09</text>
<text transform="translate(248.75 449.5) rotate(0.03)" text-anchor="end" class="r">0.255</text>
<text transform="translate(285.5 449.5) rotate(0.03)" text-anchor="end" class="r">72</text>
<text transform="translate(323.75 449.5) rotate(0.03)" text-anchor="end" class="r">-0.01</text>
<text transform="translate(362.5 449.5) rotate(0.03)" text-anchor="end" class="r">0.233</text>
<text transform="translate(399.25 449.5) rotate(0.03)" text-anchor="end" class="r">72</text>
<text transform="translate(447.5 449.5) rotate(0.03)" text-anchor="end" class="r">26.0%</text>
<text transform="translate(571.25 449.5) rotate(0.03)" text-anchor="end" class="r">0.41 [0.08, 0.74]</text>
<text transform="translate(58 465) rotate(0.03)" class="r">Ying Pan 2016</text>
<text transform="translate(209.5 465) rotate(0.03)" text-anchor="end" class="r">0.2</text>
<text transform="translate(248.75 465) rotate(0.03)" text-anchor="end" class="r">0.162</text>
<text transform="translate(285.5 465) rotate(0.03)" text-anchor="end" class="r">70</text>
<text transform="translate(323.75 465) rotate(0.03)" text-anchor="end" class="r">0.12</text>
<text transform="translate(362.5 465) rotate(0.03)" text-anchor="end" class="r">0.121</text>
<text transform="translate(399.25 465) rotate(0.03)" text-anchor="end" class="r">70</text>
<text transform="translate(447.5 465) rotate(0.03)" text-anchor="end" class="r">25.5%</text>
<text transform="translate(571.25 465) rotate(0.03)" text-anchor="end" class="r">0.56 [0.22, 0.89]</text>
<text transform="translate(58 494.5) rotate(0.03)" font-weight="bold">Total (95% CI)</text>
<text transform="translate(284.5 494.5) rotate(0.03)" text-anchor="end" font-weight="bold">272</text>
<text transform="translate(398.25 494.5) rotate(0.03)" text-anchor="end" font-weight="bold">272</text>
<text transform="translate(448 494.5) rotate(0.03)" text-anchor="end" font-weight="bold">100.0%</text>
<text transform="translate(570 494.5) rotate(0.03)" text-anchor="end" font-weight="bold">0.59 [0.31, 0.87]</text>
<text transform="translate(58 511.25) rotate(0.03)" class="r">Heterogeneity: Tau² = 0.05; Chi² = 7.71, df = 3 (P = 0.05); I² = 61%</text>
<text transform="translate(58 526.75) rotate(0.03)" class="r">Test for overall effect: Z = 4.15 (P &lt; 0.0001)</text>
<line x1="716.3" y1="402.95" x2="716.3" y2="506.55" stroke="#2c2c2c" stroke-width="1.3"/>
<line x1="581.25" y1="502.85" x2="851.25" y2="502.85" stroke="#2c2c2c" stroke-width="1.5"/>
<line x1="616.7" y1="499.15" x2="616.7" y2="506.55" stroke="#2c2c2c" stroke-width="1.35"/>
<text transform="translate(616.7 518.75) rotate(0.03)" text-anchor="middle" class="r">-1</text>
<line x1="666.5" y1="499.15" x2="666.5" y2="506.55" stroke="#2c2c2c" stroke-width="1.35"/>
<text transform="translate(666.5 518.75) rotate(0.03)" text-anchor="middle" class="r">-0.5</text>
<line x1="716.3" y1="499.15" x2="716.3" y2="506.55" stroke="#2c2c2c" stroke-width="1.35"/>
<text transform="translate(716.3 518.75) rotate(0.03)" text-anchor="middle" class="r">0</text>
<line x1="766.1" y1="499.15" x2="766.1" y2="506.55" stroke="#2c2c2c" stroke-width="1.35"/>
<text transform="translate(766.1 518.75) rotate(0.03)" text-anchor="middle" class="r">0.5</text>
<line x1="815.9" y1="499.15" x2="815.9" y2="506.55" stroke="#2c2c2c" stroke-width="1.35"/>
<text transform="translate(815.9 518.75) rotate(0.03)" text-anchor="middle" class="r">1</text>
<text transform="translate(709.5 533) rotate(0.03)" text-anchor="end" class="r">Favours [Jintiange]</text>
<text transform="translate(721.5 533) rotate(0.03)" class="r">Favours [control]</text>
<line x1="781.04" y1="410.5" x2="846.78" y2="410.5" stroke="#2c2c2c" stroke-width="1.3"/>
<rect x="810.9" y="408.3" width="6.01" height="6.41" fill="#5cba22"/>
<line x1="714.31" y1="426" x2="793.99" y2="426" stroke="#2c2c2c" stroke-width="1.3"/>
<rect x="751.45" y="424.1" width="5.39" height="5.79" fill="#5cba22"/>
<line x1="724.27" y1="441.5" x2="790" y2="441.5" stroke="#2c2c2c" stroke-width="1.3"/>
<rect x="754.14" y="439.3" width="5.99" height="6.39" fill="#5cba22"/>
<line x1="738.21" y1="457" x2="804.94" y2="457" stroke="#2c2c2c" stroke-width="1.3"/>
<rect x="769.12" y="454.85" width="5.91" height="6.31" fill="#5cba22"/>
<polygon points="747.18,487.5 775.06,480.75 802.95,487.5 775.06,494.25" fill="#000"/>
</g>
<g font-size="11.66">
<text class="pl" transform="translate(920.7 355.7) rotate(0.03) scale(0.990 1)" font-size="30">D</text>
<text transform="translate(1132.9 370.7) rotate(0.03)" text-anchor="middle" font-weight="bold">Jintiange</text>
<text transform="translate(1247.5 370.7) rotate(0.03)" text-anchor="middle" font-weight="bold">Control</text>
<text transform="translate(1414 370.7) rotate(0.03)" text-anchor="middle" font-weight="bold">Std. Mean Difference</text>
<text transform="translate(1620.5 370.7) rotate(0.03)" text-anchor="middle" font-weight="bold">Std. Mean Difference</text>
<text transform="translate(1426 386.1) rotate(0.03)" text-anchor="middle" font-weight="bold">IV, Random, 95% CI</text>
<text transform="translate(1622.75 386.1) rotate(0.03)" text-anchor="middle" font-weight="bold">IV, Random, 95% CI</text>
<text transform="translate(961.75 386.1) rotate(0.03)" font-weight="bold">Study or Subgroup</text>
<text transform="translate(1114.25 386.1) rotate(0.03)" text-anchor="end" font-weight="bold">Mean</text>
<text transform="translate(1153.9 386.1) rotate(0.03)" text-anchor="end" font-weight="bold">SD</text>
<text transform="translate(1190.2 386.1) rotate(0.03)" text-anchor="end" font-weight="bold">Total</text>
<text transform="translate(1228 386.1) rotate(0.03)" text-anchor="end" font-weight="bold">Mean</text>
<text transform="translate(1267.9 386.1) rotate(0.03)" text-anchor="end" font-weight="bold">SD</text>
<text transform="translate(1303.95 386.1) rotate(0.03)" text-anchor="end" font-weight="bold">Total</text>
<text transform="translate(1352 386.1) rotate(0.03)" text-anchor="end" font-weight="bold">Weight</text>
<line x1="952.5" y1="387.6" x2="1766" y2="387.6" stroke="#2c2c2c" stroke-width="1.5"/>
<text transform="translate(961.75 403) rotate(0.03)" class="r">Baoyu He 2015a</text>
<text transform="translate(1114.25 403) rotate(0.03)" text-anchor="end" class="r">0.06</text>
<text transform="translate(1153 403) rotate(0.03)" text-anchor="end" class="r">0.049</text>
<text transform="translate(1189.5 403) rotate(0.03)" text-anchor="end" class="r">46</text>
<text transform="translate(1228 403) rotate(0.03)" text-anchor="end" class="r">0.005</text>
<text transform="translate(1267 403) rotate(0.03)" text-anchor="end" class="r">0.004</text>
<text transform="translate(1303.25 403) rotate(0.03)" text-anchor="end" class="r">44</text>
<text transform="translate(1352 403) rotate(0.03)" text-anchor="end" class="r">16.6%</text>
<text transform="translate(1475.25 403) rotate(0.03)" text-anchor="end" class="r">1.55 [1.08, 2.03]</text>
<text transform="translate(961.75 418.4) rotate(0.03)" class="r">Baoyu He 2015b</text>
<text transform="translate(1114.25 418.4) rotate(0.03)" text-anchor="end" class="r">0.066</text>
<text transform="translate(1153 418.4) rotate(0.03)" text-anchor="end" class="r">0.052</text>
<text transform="translate(1189.5 418.4) rotate(0.03)" text-anchor="end" class="r">34</text>
<text transform="translate(1228 418.4) rotate(0.03)" text-anchor="end" class="r">0.004</text>
<text transform="translate(1267 418.4) rotate(0.03)" text-anchor="end" class="r">0.003</text>
<text transform="translate(1303.25 418.4) rotate(0.03)" text-anchor="end" class="r">36</text>
<text transform="translate(1352 418.4) rotate(0.03)" text-anchor="end" class="r">15.6%</text>
<text transform="translate(1475.25 418.4) rotate(0.03)" text-anchor="end" class="r">1.69 [1.14, 2.24]</text>
<text transform="translate(961.75 433.8) rotate(0.03)" class="r">Jiale Dai 2018</text>
<text transform="translate(1114.25 433.8) rotate(0.03)" text-anchor="end" class="r">0.21</text>
<text transform="translate(1153 433.8) rotate(0.03)" text-anchor="end" class="r">0.085</text>
<text transform="translate(1189.5 433.8) rotate(0.03)" text-anchor="end" class="r">80</text>
<text transform="translate(1228 433.8) rotate(0.03)" text-anchor="end" class="r">0.11</text>
<text transform="translate(1267 433.8) rotate(0.03)" text-anchor="end" class="r">0.099</text>
<text transform="translate(1303.25 433.8) rotate(0.03)" text-anchor="end" class="r">80</text>
<text transform="translate(1352 433.8) rotate(0.03)" text-anchor="end" class="r">18.3%</text>
<text transform="translate(1475.25 433.8) rotate(0.03)" text-anchor="end" class="r">1.08 [0.75, 1.41]</text>
<text transform="translate(961.75 449.2) rotate(0.03)" class="r">Kuo Xu 2015</text>
<text transform="translate(1114.25 449.2) rotate(0.03)" text-anchor="end" class="r">0.065</text>
<text transform="translate(1153 449.2) rotate(0.03)" text-anchor="end" class="r">0.085</text>
<text transform="translate(1189.5 449.2) rotate(0.03)" text-anchor="end" class="r">23</text>
<text transform="translate(1228 449.2) rotate(0.03)" text-anchor="end" class="r">0.005</text>
<text transform="translate(1267 449.2) rotate(0.03)" text-anchor="end" class="r">0.1</text>
<text transform="translate(1303.25 449.2) rotate(0.03)" text-anchor="end" class="r">21</text>
<text transform="translate(1352 449.2) rotate(0.03)" text-anchor="end" class="r">14.8%</text>
<text transform="translate(1475.25 449.2) rotate(0.03)" text-anchor="end" class="r">0.64 [0.03, 1.25]</text>
<text transform="translate(961.75 464.6) rotate(0.03)" class="r">Qin Fu 2017</text>
<text transform="translate(1114.25 464.6) rotate(0.03)" text-anchor="end" class="r">0.113</text>
<text transform="translate(1153 464.6) rotate(0.03)" text-anchor="end" class="r">0.117</text>
<text transform="translate(1189.5 464.6) rotate(0.03)" text-anchor="end" class="r">33</text>
<text transform="translate(1228 464.6) rotate(0.03)" text-anchor="end" class="r">0.106</text>
<text transform="translate(1267 464.6) rotate(0.03)" text-anchor="end" class="r">0.107</text>
<text transform="translate(1303.25 464.6) rotate(0.03)" text-anchor="end" class="r">33</text>
<text transform="translate(1352 464.6) rotate(0.03)" text-anchor="end" class="r">16.5%</text>
<text transform="translate(1475.25 464.6) rotate(0.03)" text-anchor="end" class="r">0.06 [-0.42, 0.54]</text>
<text transform="translate(961.75 480) rotate(0.03)" class="r">Ying Pan 2016</text>
<text transform="translate(1114.25 480) rotate(0.03)" text-anchor="end" class="r">0.18</text>
<text transform="translate(1153 480) rotate(0.03)" text-anchor="end" class="r">0.122</text>
<text transform="translate(1189.5 480) rotate(0.03)" text-anchor="end" class="r">70</text>
<text transform="translate(1228 480) rotate(0.03)" text-anchor="end" class="r">0.11</text>
<text transform="translate(1267 480) rotate(0.03)" text-anchor="end" class="r">0.1</text>
<text transform="translate(1303.25 480) rotate(0.03)" text-anchor="end" class="r">70</text>
<text transform="translate(1352 480) rotate(0.03)" text-anchor="end" class="r">18.2%</text>
<text transform="translate(1475.25 480) rotate(0.03)" text-anchor="end" class="r">0.62 [0.28, 0.96]</text>
<text transform="translate(961.75 509.5) rotate(0.03)" font-weight="bold">Total (95% CI)</text>
<text transform="translate(1188.75 509.5) rotate(0.03)" text-anchor="end" font-weight="bold">286</text>
<text transform="translate(1302.5 509.5) rotate(0.03)" text-anchor="end" font-weight="bold">284</text>
<text transform="translate(1352 509.5) rotate(0.03)" text-anchor="end" font-weight="bold">100.0%</text>
<text transform="translate(1474 509.5) rotate(0.03)" text-anchor="end" font-weight="bold">0.94 [0.48, 1.39]</text>
<text transform="translate(961.75 526) rotate(0.03)" class="r">Heterogeneity: Tau² = 0.26; Chi² = 31.10, df = 5 (P &lt; 0.00001); I² = 84%</text>
<text transform="translate(961.75 541.5) rotate(0.03)" class="r">Test for overall effect: Z = 4.06 (P &lt; 0.0001)</text>
<line x1="1620.25" y1="387.6" x2="1620.25" y2="521.7" stroke="#2c2c2c" stroke-width="1.3"/>
<line x1="1485.25" y1="518" x2="1755.25" y2="518" stroke="#2c2c2c" stroke-width="1.5"/>
<line x1="1503.75" y1="514.3" x2="1503.75" y2="521.7" stroke="#2c2c2c" stroke-width="1.35"/>
<text transform="translate(1503.75 534) rotate(0.03)" text-anchor="middle" class="r">-2</text>
<line x1="1562" y1="514.3" x2="1562" y2="521.7" stroke="#2c2c2c" stroke-width="1.35"/>
<text transform="translate(1562 534) rotate(0.03)" text-anchor="middle" class="r">-1</text>
<line x1="1620.25" y1="514.3" x2="1620.25" y2="521.7" stroke="#2c2c2c" stroke-width="1.35"/>
<text transform="translate(1620.25 534) rotate(0.03)" text-anchor="middle" class="r">0</text>
<line x1="1678.5" y1="514.3" x2="1678.5" y2="521.7" stroke="#2c2c2c" stroke-width="1.35"/>
<text transform="translate(1678.5 534) rotate(0.03)" text-anchor="middle" class="r">1</text>
<line x1="1736.75" y1="514.3" x2="1736.75" y2="521.7" stroke="#2c2c2c" stroke-width="1.35"/>
<text transform="translate(1736.75 534) rotate(0.03)" text-anchor="middle" class="r">2</text>
<text transform="translate(1614 548.25) rotate(0.03)" text-anchor="end" class="r">Favours [Jintiange]</text>
<text transform="translate(1625.75 548.25) rotate(0.03)" class="r">Favours [control]</text>
<line x1="1683.16" y1="394.5" x2="1738.5" y2="394.5" stroke="#2c2c2c" stroke-width="1.3"/>
<rect x="1708.33" y="393.09" width="4.42" height="4.82" fill="#5cba22"/>
<line x1="1686.65" y1="409.9" x2="1750.73" y2="409.9" stroke="#2c2c2c" stroke-width="1.3"/>
<rect x="1716.56" y="408.57" width="4.26" height="4.66" fill="#5cba22"/>
<line x1="1663.94" y1="425.3" x2="1702.38" y2="425.3" stroke="#2c2c2c" stroke-width="1.3"/>
<rect x="1680.81" y="423.75" width="4.71" height="5.11" fill="#5cba22"/>
<line x1="1622" y1="440.7" x2="1693.06" y2="440.7" stroke="#2c2c2c" stroke-width="1.3"/>
<rect x="1655.47" y="439.44" width="4.12" height="4.52" fill="#5cba22"/>
<line x1="1595.79" y1="456.1" x2="1651.7" y2="456.1" stroke="#2c2c2c" stroke-width="1.3"/>
<rect x="1621.54" y="454.7" width="4.41" height="4.81" fill="#5cba22"/>
<line x1="1636.56" y1="471.5" x2="1676.17" y2="471.5" stroke="#2c2c2c" stroke-width="1.3"/>
<rect x="1654.02" y="469.96" width="4.69" height="5.09" fill="#5cba22"/>
<polygon points="1648.21,502.75 1675.01,496 1701.22,502.75 1675.01,509.5" fill="#000"/>
</g>
</svg>
</body>
</html>
